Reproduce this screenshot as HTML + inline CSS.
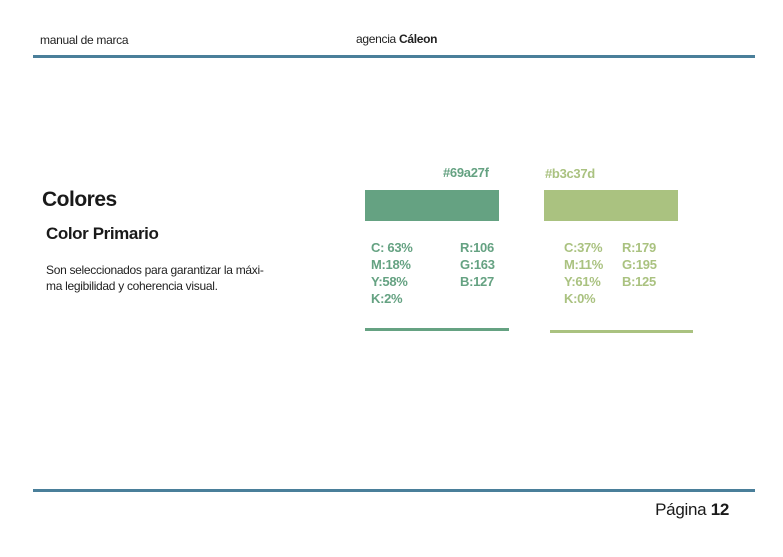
<!DOCTYPE html>
<html><head><meta charset="utf-8"><style>
body{margin:0;width:783px;height:557px;background:#fff;position:relative;overflow:hidden;font-family:"Liberation Sans",sans-serif;}
.a{position:absolute;white-space:nowrap;line-height:1;}
.g{color:#65a282;font-weight:bold;font-size:13px;letter-spacing:-0.3px}
.l{color:#aac280;font-weight:bold;font-size:13px;letter-spacing:-0.3px}
</style></head><body>
<div class="a" style="left:40px;top:34px;font-size:12px;color:#222;letter-spacing:-0.3px">manual de marca</div>
<div class="a" style="left:356px;top:33px;font-size:12px;color:#222;letter-spacing:-0.3px">agencia <b>Cáleon</b></div>
<div class="a" style="left:33px;top:55px;width:722px;height:3px;background:#4a7f9a"></div>
<div class="a" style="left:42px;top:189px;font-size:21px;font-weight:bold;color:#1a1a1a;letter-spacing:-0.5px">Colores</div>
<div class="a" style="left:46px;top:225px;font-size:17px;font-weight:bold;color:#1a1a1a;letter-spacing:-0.4px">Color Primario</div>
<div class="a" style="left:46px;top:262px;font-size:12px;color:#222;line-height:16px;letter-spacing:-0.3px">Son seleccionados para garantizar la máxi-<br>ma legibilidad y coherencia visual.</div>
<div class="a g" style="left:443px;top:166px">#69a27f</div>
<div class="a l" style="left:545px;top:167px">#b3c37d</div>
<div class="a" style="left:365px;top:190px;width:134px;height:31px;background:#65a282"></div>
<div class="a" style="left:544px;top:190px;width:134px;height:31px;background:#aac280"></div>
<div class="a g" style="left:371px;top:239px;line-height:17px">C: 63%<br>M:18%<br>Y:58%<br>K:2%</div>
<div class="a g" style="left:460px;top:239px;line-height:17px">R:106<br>G:163<br>B:127</div>
<div class="a l" style="left:564px;top:239px;line-height:17px">C:37%<br>M:11%<br>Y:61%<br>K:0%</div>
<div class="a l" style="left:622px;top:239px;line-height:17px">R:179<br>G:195<br>B:125</div>
<div class="a" style="left:365px;top:328px;width:144px;height:3px;background:#65a282"></div>
<div class="a" style="left:550px;top:330px;width:143px;height:3px;background:#aac280"></div>
<div class="a" style="left:33px;top:489px;width:722px;height:3px;background:#4a7f9a"></div>
<div class="a" style="right:54px;top:501px;font-size:17px;color:#1a1a1a;letter-spacing:-0.3px">Página <b>12</b></div>
</body></html>
